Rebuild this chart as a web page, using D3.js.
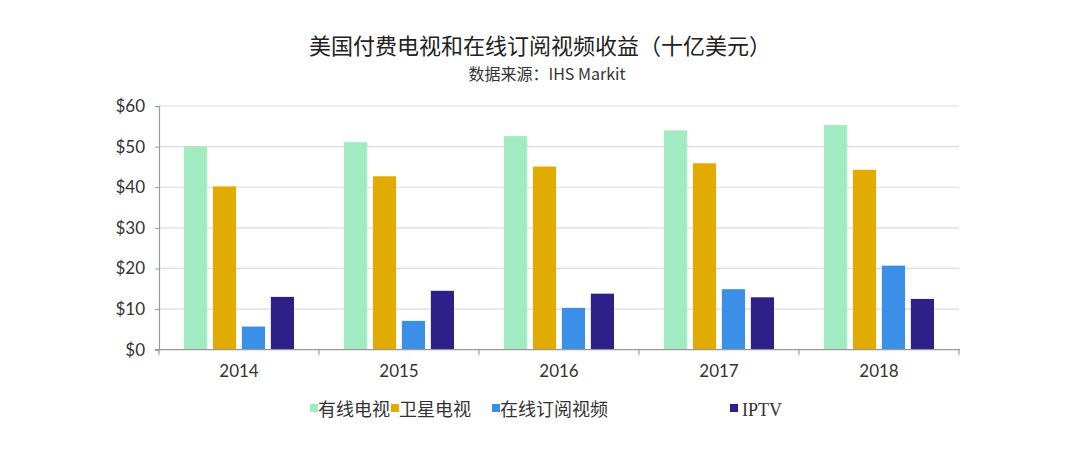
<!DOCTYPE html>
<html><head><meta charset="utf-8">
<script src="https://cdn.jsdelivr.net/npm/d3@7"></script>
<style>body{margin:0;background:#fff}svg{display:block}</style>
</head><body>
<svg id="c" width="1080" height="458"></svg>
<script>
const years = ["2014","2015","2016","2017","2018"];
const seriesNames = ["有线电视","卫星电视","在线订阅视频","IPTV"];
const cable = [50.0, 51.1, 52.6, 54.0, 55.3];
const satellite = [40.2, 42.7, 45.1, 45.9, 44.3];
const ott = [5.7, 7.1, 10.3, 14.9, 20.7];
const iptv = [13.0, 14.5, 13.8, 12.9, 12.5];
const yTicks = [0,10,20,30,40,50,60];
const colors = ["#A0EBBF","#E1AB00","#3C8FE6","#2D2088"];

const seriesVals = [cable, satellite, ott, iptv];
const svg = d3.select("#c");
const L = 159, R = 959, T = 106, B = 349.7;
const x = d3.scaleBand().domain(years).range([L,R]).padding(0);
const xs = d3.scaleBand().domain(seriesNames).range([25, x.bandwidth()-25]).paddingInner(0.2).paddingOuter(0);
const y = d3.scaleLinear().domain([0,60]).range([B,T]);

// gridlines
svg.append("g").selectAll("line").data(yTicks.slice(1)).join("line")
  .attr("x1",L).attr("x2",R).attr("y1",d=>y(d)).attr("y2",d=>y(d))
  .attr("stroke","#dcdcdc").attr("stroke-width",1.2);

// bars
const g = svg.append("g");
years.forEach((yr,i)=>{
  seriesNames.forEach((s,j)=>{
    const v = seriesVals[j][i];
    g.append("rect").attr("x", x(yr)+xs(s)).attr("width", xs.bandwidth())
      .attr("y", y(v)).attr("height", B - y(v)).attr("fill", colors[j]);
  });
});

// y axis
const ya = svg.append("g").attr("transform",`translate(${L},0)`)
  .call(d3.axisLeft(y).tickValues(yTicks).tickSize(4).tickPadding(10).tickFormat(d=>"$"+d));
ya.select(".domain").attr("stroke","#999").attr("stroke-width",1.2);
ya.selectAll(".tick line").attr("stroke","#999");
ya.selectAll("text").attr("font-family","Lato, 'Open Sans', sans-serif").attr("font-size",17).attr("fill","#333");

// x axis
const xa = svg.append("g").attr("transform",`translate(0,${B})`)
  .call(d3.axisBottom(x).tickSize(0).tickPadding(15));
xa.select(".domain").attr("stroke","#999").attr("stroke-width",1.2).attr("d",`M${L-4},0H${R+1}`);
xa.selectAll("text").attr("font-family","Lato, 'Open Sans', sans-serif").attr("font-size",17).attr("fill","#333");
svg.append("g").selectAll("line").data(years.concat(["end"])).join("line")
  .attr("x1",(d,i)=>L+i*x.bandwidth()).attr("x2",(d,i)=>L+i*x.bandwidth())
  .attr("y1",B).attr("y2",B+5).attr("stroke","#999").attr("stroke-width",1.2);

// title
svg.append("text").attr("x",540).attr("y",54).attr("text-anchor","middle")
  .attr("font-family","'Noto Sans CJK SC', sans-serif").attr("font-size",22).attr("fill","#222")
  .text("美国付费电视和在线订阅视频收益（十亿美元）");
svg.append("text").attr("x",547).attr("y",80).attr("text-anchor","middle")
  .attr("font-family","'Noto Sans CJK SC', sans-serif").attr("font-size",16).attr("fill","#333")
  .text("数据来源：IHS Markit");

// legend
const legX = [310, 391, 492, 730];
const lg = svg.append("g");
seriesNames.forEach((s,j)=>{
  lg.append("rect").attr("x",legX[j]).attr("y",404).attr("width",8).attr("height",8).attr("fill",colors[j]);
  lg.append("text").attr("x",legX[j]+(j===3?12:8)).attr("y",416)
    .attr("font-family", j===3 ? "'Liberation Serif', serif" : "'Noto Sans CJK SC', sans-serif")
    .attr("font-size",18).attr("fill","#333").text(s);
});
</script>
</body></html>
